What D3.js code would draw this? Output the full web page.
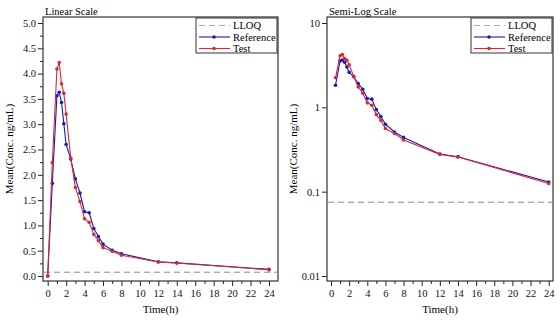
<!DOCTYPE html>
<html>
<head>
<meta charset="utf-8">
<script src="https://cdn.jsdelivr.net/npm/d3@7"></script>
<style>
  body { margin: 0; background: #fff; }
  svg, svg text { font-family: "Liberation Serif", "Times New Roman", "DejaVu Serif", serif !important; }
</style>
</head>
<body>
<svg id="chart" width="560" height="323"></svg>
<script>
// sampling times (h) and mean concentrations (ng/mL)
const times = [0, 0.5, 1, 1.25, 1.5, 1.75, 2, 2.5, 3, 3.5, 4, 4.5, 5, 5.5, 6, 7, 8, 12, 14, 24]
const reference = [0, 1.83, 3.56, 3.63, 3.43, 3.01, 2.60, 2.31, 1.92, 1.64, 1.27, 1.25, 0.94, 0.78, 0.63, 0.51, 0.44, 0.28, 0.26, 0.13]
const test = [0, 2.24, 4.09, 4.22, 3.80, 3.61, 3.20, 2.33, 1.75, 1.47, 1.13, 1.06, 0.82, 0.70, 0.56, 0.49, 0.41, 0.277, 0.257, 0.125]
const lloq = 0.075
const xTicks = d3.range(0, 25, 2)
const linTicks = d3.range(0, 5.01, 0.5)
const logTicks = [0.01, 0.1, 1, 10]

const series = [
  {name: 'Reference', values: reference, color: '#1a1ab8'},
  {name: 'Test', values: test, color: '#d42a34'},
]

const svg = d3.select('#chart')

/* one panel: frame, axes, lloq line, series and legend */
const drawPanel = ({frame, x, y, title, yTicks, yFmt, yMinor, log}) => {
  const g = svg.append('g')

  // x axis with minor ticks at odd hours
  g.append('g')
    .attr('transform', `translate(0,${frame.bottom})`)
    .call(d3.axisBottom(x).tickValues(d3.range(1, 24, 2)).tickSize(3).tickFormat(''))
  g.append('g')
    .attr('transform', `translate(0,${frame.bottom})`)
    .call(d3.axisBottom(x).tickValues(xTicks).tickSize(5).tickPadding(4).tickFormat(d3.format('d')))

  if (yMinor) {
    g.append('g')
      .attr('transform', `translate(${frame.left},0)`)
      .call(d3.axisLeft(y).tickValues(yMinor).tickSize(3).tickFormat(''))
  }
  g.append('g')
    .attr('transform', `translate(${frame.left},0)`)
    .call(d3.axisLeft(y).tickValues(yTicks).tickSize(5).tickPadding(2).tickFormat(yFmt))

  g.selectAll('.domain').remove()
  g.selectAll('.tick line').attr('stroke', '#222')
  g.selectAll('.tick text')
    .attr('font-size', 10.5)
    .attr('fill', '#111')

  // plot frame
  g.append('rect')
    .attr('x', frame.left)
    .attr('y', frame.top)
    .attr('width', frame.right - frame.left)
    .attr('height', frame.bottom - frame.top)
    .attr('fill', 'none')
    .attr('stroke', '#333')
    .attr('stroke-width', 1.2)

  g.append('text')
    .attr('x', frame.left + 2)
    .attr('y', frame.top - 2)
    .attr('font-size', 10.5)
    .text(title)

  g.append('text')
    .attr('x', (frame.left + frame.right) / 2)
    .attr('y', 313)
    .attr('text-anchor', 'middle')
    .attr('font-size', 11)
    .text('Time(h)')

  g.append('text')
    .attr('transform', `translate(${frame.left - 30},${(frame.top + frame.bottom) / 2}) rotate(-90)`)
    .attr('text-anchor', 'middle')
    .attr('font-size', 11)
    .text('Mean(Conc. ng/mL)')

  // lloq reference line
  g.append('line')
    .attr('x1', frame.left + 1)
    .attr('x2', frame.right - 1)
    .attr('y1', y(lloq))
    .attr('y2', y(lloq))
    .attr('stroke', '#8a8a8a')
    .attr('stroke-width', 1)
    .attr('stroke-dasharray', '6 4')

  series.forEach((s) => {
    const pts = times
      .map((t, i) => ({t, v: s.values[i]}))
      .filter((d) => !log || d.v > 0)
    g.append('path')
      .datum(pts)
      .attr('fill', 'none')
      .attr('stroke', s.color)
      .attr('stroke-width', 1.1)
      .attr('d', d3.line().x((d) => x(d.t)).y((d) => y(d.v)))
    g.selectAll(null)
      .data(pts)
      .join('circle')
      .attr('cx', (d) => x(d.t))
      .attr('cy', (d) => y(d.v))
      .attr('r', 1.8)
      .attr('fill', s.color)
  })

  // legend
  const lg = g.append('g').attr('transform', `translate(${frame.right - 82},${frame.top + 1})`)
  lg.append('rect')
    .attr('width', 81)
    .attr('height', 35)
    .attr('fill', '#fff')
    .attr('stroke', '#333')
  const items = [{name: 'LLOQ', color: '#aaa', dash: '6 4'}, ...series]
  items.forEach((it, i) => {
    const yy = 7.5 + i * 11.5
    lg.append('line')
      .attr('x1', 3).attr('x2', 34)
      .attr('y1', yy).attr('y2', yy)
      .attr('stroke', it.color)
      .attr('stroke-width', 1.1)
      .attr('stroke-dasharray', it.dash || null)
    if (!it.dash) {
      lg.append('circle')
        .attr('cx', 18)
        .attr('cy', yy)
        .attr('r', 1.8)
        .attr('fill', it.color)
    }
    lg.append('text')
      .attr('x', 37)
      .attr('y', yy + 3.5)
      .attr('font-size', 10.5)
      .text(it.name)
  })
}

// linear panel
drawPanel({
  frame: {left: 43, right: 278, top: 17, bottom: 281},
  x: d3.scaleLinear().domain([0, 24]).range([47.7, 269]),
  y: d3.scaleLinear().domain([0, 5]).range([276, 23]),
  title: 'Linear Scale',
  yTicks: linTicks,
  yFmt: d3.format('.1f'),
  yMinor: d3.range(0.25, 5, 0.5),
  log: false,
})

// semi-log panel
drawPanel({
  frame: {left: 327, right: 553, top: 17, bottom: 281},
  x: d3.scaleLinear().domain([0, 24]).range([331, 548.7]),
  y: d3.scaleLog().domain([0.01, 10]).range([276, 23]),
  title: 'Semi-Log Scale',
  yTicks: logTicks,
  yFmt: (d) => String(d),
  yMinor: null,
  log: true,
})
</script>
</body>
</html>
